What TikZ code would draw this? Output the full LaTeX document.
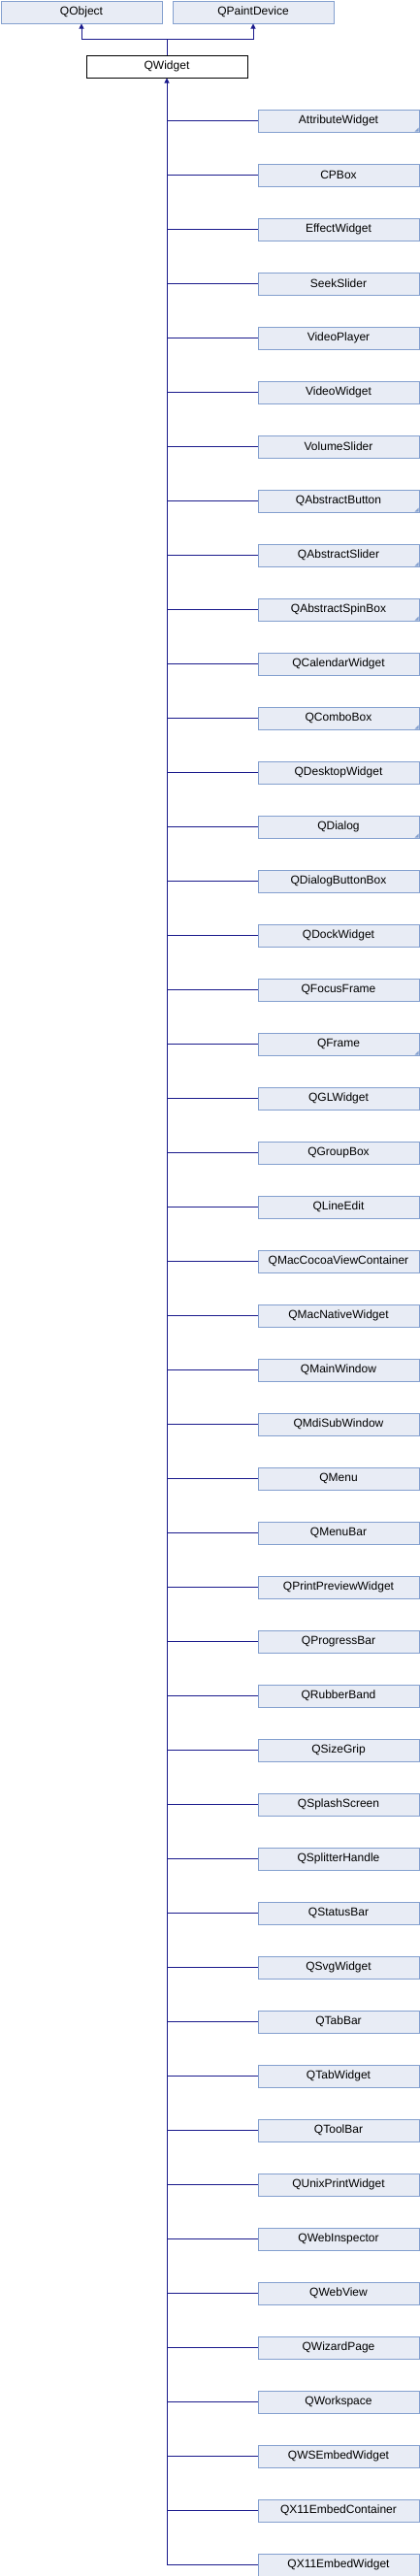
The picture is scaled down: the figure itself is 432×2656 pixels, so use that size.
\documentclass[tikz,border=0pt]{standalone}
\usepackage{fontspec}
\setmainfont{Liberation Sans}
\usetikzlibrary{arrows.meta}
\definecolor{boxfill}{HTML}{E8ECF5}
\definecolor{boxdraw}{HTML}{84A0CF}
\definecolor{edgecol}{HTML}{1A1A8C}
\begin{document}
\begin{tikzpicture}[x=1pt,y=1pt,
  cls/.style={draw=boxdraw,fill=boxfill,line width=1pt,minimum width=166pt,minimum height=23pt,inner sep=0pt,anchor=north west,font=\fontsize{12}{13}\selectfont},
  cur/.style={cls,draw=black,fill=white},
  edgeline/.style={draw=edgecol,line width=1pt},
  inh/.style={edgeline,-{Triangle[length=5pt,width=5pt]}}]
\useasboundingbox (0,0) rectangle (432,-2656);
\node[cls] (qobject) at (0.5,-0.5) {QObject};
\node[cls] (qpaintdevice) at (177.5,-0.5) {QPaintDevice};
\node[cur] (qwidget) at (88.5,-56.5) {QWidget};
\draw[inh] (qwidget.north) -- ++(0,16) -| (qobject.south);
\draw[inh] (qwidget.north) -- ++(0,16) -| (qpaintdevice.south);
\foreach \name [count=\i] in {AttributeWidget,CPBox,EffectWidget,SeekSlider,VideoPlayer,VideoWidget,VolumeSlider,QAbstractButton,QAbstractSlider,QAbstractSpinBox,QCalendarWidget,QComboBox,QDesktopWidget,QDialog,QDialogButtonBox,QDockWidget,QFocusFrame,QFrame,QGLWidget,QGroupBox,QLineEdit,QMacCocoaViewContainer,QMacNativeWidget,QMainWindow,QMdiSubWindow,QMenu,QMenuBar,QPrintPreviewWidget,QProgressBar,QRubberBand,QSizeGrip,QSplashScreen,QSplitterHandle,QStatusBar,QSvgWidget,QTabBar,QTabWidget,QToolBar,QUnixPrintWidget,QWebInspector,QWebView,QWizardPage,QWorkspace,QWSEmbedWidget,QX11EmbedContainer,QX11EmbedWidget} {
  \node[cls] (c\i) at (265.5,{-112.5-56*(\i-1)}) {\name};
  \draw[edgeline] (c\i.west) -- (c\i.west -| qwidget.south);
}
\draw[inh] (c46.west -| qwidget.south) -- (qwidget.south);
\foreach \i in {1,8,9,10,12,14,18} {
  \fill[boxdraw] ([xshift=-1pt,yshift=1pt]c\i.south east) -- ++(0,4) -- ++(-4,-4) -- cycle;
}
\end{tikzpicture}
\end{document}
